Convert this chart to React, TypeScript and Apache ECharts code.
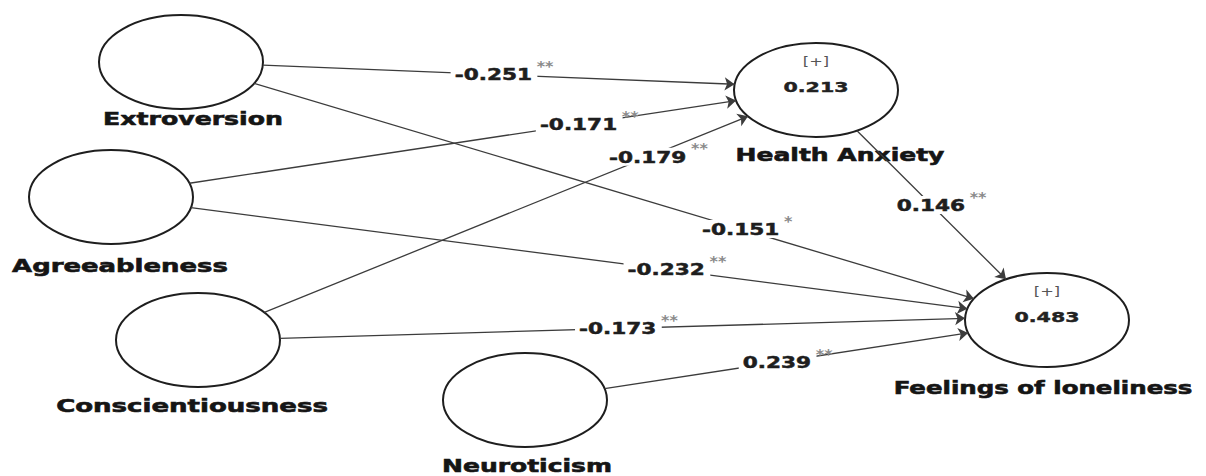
import React, { useEffect, useRef } from "react";
import * as echarts from "echarts";

// ---------- data ----------
const constructs = [
  "Extroversion",
  "Agreeableness",
  "Conscientiousness",
  "Neuroticism",
  "Health Anxiety",
  "Feelings of loneliness",
];
const rSquared: (number | null)[] = [null, null, null, null, 0.213, 0.483];

const pathSources = [
  "Extroversion",
  "Agreeableness",
  "Conscientiousness",
  "Extroversion",
  "Agreeableness",
  "Conscientiousness",
  "Neuroticism",
  "Health Anxiety",
];
const pathTargets = [
  "Health Anxiety",
  "Health Anxiety",
  "Health Anxiety",
  "Feelings of loneliness",
  "Feelings of loneliness",
  "Feelings of loneliness",
  "Feelings of loneliness",
  "Feelings of loneliness",
];
const pathCoefficients = [-0.251, -0.171, -0.179, -0.151, -0.232, -0.173, 0.239, 0.146];
const pathSignificance = ["**", "**", "**", "*", "**", "**", "**", "**"];

// ---------- layout (diagram units = hidden axis units) ----------
const RX = 82;
const RY = 47;
const NODE_LAYOUT: Record<string, { cx: number; cy: number; ldx: number; ldy: number; lw: number }> = {
  Extroversion: { cx: 181, cy: 62, ldx: 12, ldy: 57, lw: 180 },
  Agreeableness: { cx: 111, cy: 197, ldx: 9, ldy: 69, lw: 216 },
  Conscientiousness: { cx: 198, cy: 340, ldx: -6, ldy: 66, lw: 272 },
  Neuroticism: { cx: 525, cy: 400, ldx: 2, ldy: 66, lw: 170 },
  "Health Anxiety": { cx: 816, cy: 90, ldx: 24, ldy: 65, lw: 209 },
  "Feelings of loneliness": { cx: 1047, cy: 320, ldx: -4, ldy: 68, lw: 299 },
};
// port angles (deg) on source / target ellipse, and label position along the path
const EDGE_LAYOUT = [
  { a0: 3.7, a1: 187, t: 0.49 },
  { a0: -17, a1: 167, t: 0.713 },
  { a0: -36, a1: 146, t: 0.794 },
  { a0: 27, a1: 207, t: 0.677 },
  { a0: 13, a1: 194, t: 0.613 },
  { a0: -2, a1: 182, t: 0.494 },
  { a0: -14, a1: 164, t: 0.476 },
  { a0: 60, a1: 240, t: 0.5 },
];

const FONT = '"DejaVu Sans", sans-serif';

const port = (name: string, deg: number): [number, number] => {
  const n = NODE_LAYOUT[name];
  const r = (deg * Math.PI) / 180;
  return [n.cx + RX * Math.cos(r), n.cy + RY * Math.sin(r)];
};

let measureCtx: CanvasRenderingContext2D | null = null;
const measure = (text: string, font: string) => {
  if (!measureCtx) measureCtx = document.createElement("canvas").getContext("2d");
  measureCtx!.font = font;
  return measureCtx!.measureText(text).width;
};

const fmt = (v: number) => v.toFixed(3);

export default function App() {
  const ref = useRef<HTMLDivElement>(null);

  useEffect(() => {
    if (!ref.current) return;
    const chart = echarts.init(ref.current, undefined, { renderer: "svg" });

    const edgeCoords = pathSources.map((s, i) => {
      const p0 = port(s, EDGE_LAYOUT[i].a0);
      const p1 = port(pathTargets[i], EDGE_LAYOUT[i].a1);
      return [p0, p1];
    });

    const nameFont = `bold 18px ${FONT}`;
    const coefFont = `bold 16px ${FONT}`;
    const starFont = `bold 14px ${FONT}`;
    const r2Font = `bold 14px ${FONT}`;
    const plusFont = `13px ${FONT}`;

    const option: any = {
      animation: false,
      backgroundColor: "#ffffff",
      grid: { left: 0, right: 0, top: 0, bottom: 0, containLabel: false },
      xAxis: { type: "value", min: 0, max: 1206, show: false },
      yAxis: { type: "value", min: 0, max: 476, inverse: true, show: false },
      series: [
        {
          type: "custom",
          name: "constructs",
          coordinateSystem: "cartesian2d",
          z: 1,
          encode: { x: 0, y: 1 },
          data: constructs.map((n) => [NODE_LAYOUT[n].cx, NODE_LAYOUT[n].cy]),
          renderItem: (params: any, api: any) => {
            const i = params.dataIndex;
            const name = constructs[i];
            const L = NODE_LAYOUT[name];
            const c = api.coord([L.cx, L.cy]);
            const s = api.size([RX, RY]);
            const rx = Math.abs(s[0]);
            const ry = Math.abs(s[1]);
            const lp = api.coord([L.cx + L.ldx, L.cy + L.ldy]);
            const lsx = L.lw / measure(name, nameFont);
            const children: any[] = [
              {
                type: "ellipse",
                shape: { cx: c[0], cy: c[1], rx, ry },
                style: { fill: "#ffffff", stroke: "#1e1e1e", lineWidth: 2 },
              },
              {
                type: "text",
                x: lp[0],
                y: lp[1],
                scaleX: lsx,
                style: {
                  text: name,
                  font: nameFont,
                  fill: "#151515",
                  stroke: "#151515",
                  lineWidth: 0.6,
                  align: "center",
                  verticalAlign: "middle",
                  textAlign: "center",
                  textVerticalAlign: "middle",
                },
              },
            ];
            const r2 = rSquared[i];
            if (r2 != null) {
              children.push({
                type: "text",
                x: c[0],
                y: c[1] - 29,
                scaleX: 1.25,
                style: {
                  text: "[+]",
                  font: plusFont,
                  fill: "#555555",
                  align: "center",
                  verticalAlign: "middle",
                  textAlign: "center",
                  textVerticalAlign: "middle",
                },
              });
              const txt = fmt(r2);
              children.push({
                type: "text",
                x: c[0],
                y: c[1] - 3,
                scaleX: 65 / measure(txt, r2Font),
                style: {
                  text: txt,
                  font: r2Font,
                  fill: "#222222",
                  stroke: "#222222",
                  lineWidth: 0.4,
                  align: "center",
                  verticalAlign: "middle",
                  textAlign: "center",
                  textVerticalAlign: "middle",
                },
              });
            }
            return { type: "group", children };
          },
        },
        {
          type: "lines",
          name: "paths",
          coordinateSystem: "cartesian2d",
          z: 2,
          symbol: ["none", "arrow"],
          symbolSize: [7, 10],
          lineStyle: { color: "#3c3c3c", width: 1.3, opacity: 1, curveness: 0 },
          data: edgeCoords.map((cs) => ({ coords: cs })),
        },
        {
          type: "custom",
          name: "coefficients",
          coordinateSystem: "cartesian2d",
          z: 3,
          encode: { x: 0, y: 1 },
          data: edgeCoords.map((cs, i) => {
            const t = EDGE_LAYOUT[i].t;
            return [cs[0][0] + (cs[1][0] - cs[0][0]) * t, cs[0][1] + (cs[1][1] - cs[0][1]) * t];
          }),
          renderItem: (params: any, api: any) => {
            const i = params.dataIndex;
            const p = api.coord([api.value(0), api.value(1)]);
            const txt = fmt(pathCoefficients[i]);
            const sx = 1.35;
            const w = measure(txt, coefFont) * sx;
            return {
              type: "group",
              children: [
                {
                  type: "text",
                  x: p[0],
                  y: p[1],
                  scaleX: sx,
                  style: {
                    text: txt,
                    font: coefFont,
                    fill: "#1e1e1e",
                    stroke: "#1e1e1e",
                    lineWidth: 0.5,
                    align: "center",
                    verticalAlign: "middle",
                    textAlign: "center",
                    textVerticalAlign: "middle",
                    backgroundColor: "#ffffff",
                    padding: [1, 4, 1, 3],
                  },
                },
                {
                  type: "text",
                  x: p[0] + w / 2 + 4,
                  y: p[1] - 8,
                  scaleX: 1.15,
                  style: {
                    text: pathSignificance[i],
                    font: starFont,
                    fill: "#8a8a8a",
                    align: "left",
                    verticalAlign: "middle",
                    textAlign: "left",
                    textVerticalAlign: "middle",
                  },
                },
              ],
            };
          },
        },
      ],
    };

    chart.setOption(option);
    return () => chart.dispose();
  }, []);

  return (
    <div
      ref={ref}
      style={{ position: "absolute", left: 0, top: 0, width: 1206, height: 476, background: "#fff" }}
    />
  );
}
